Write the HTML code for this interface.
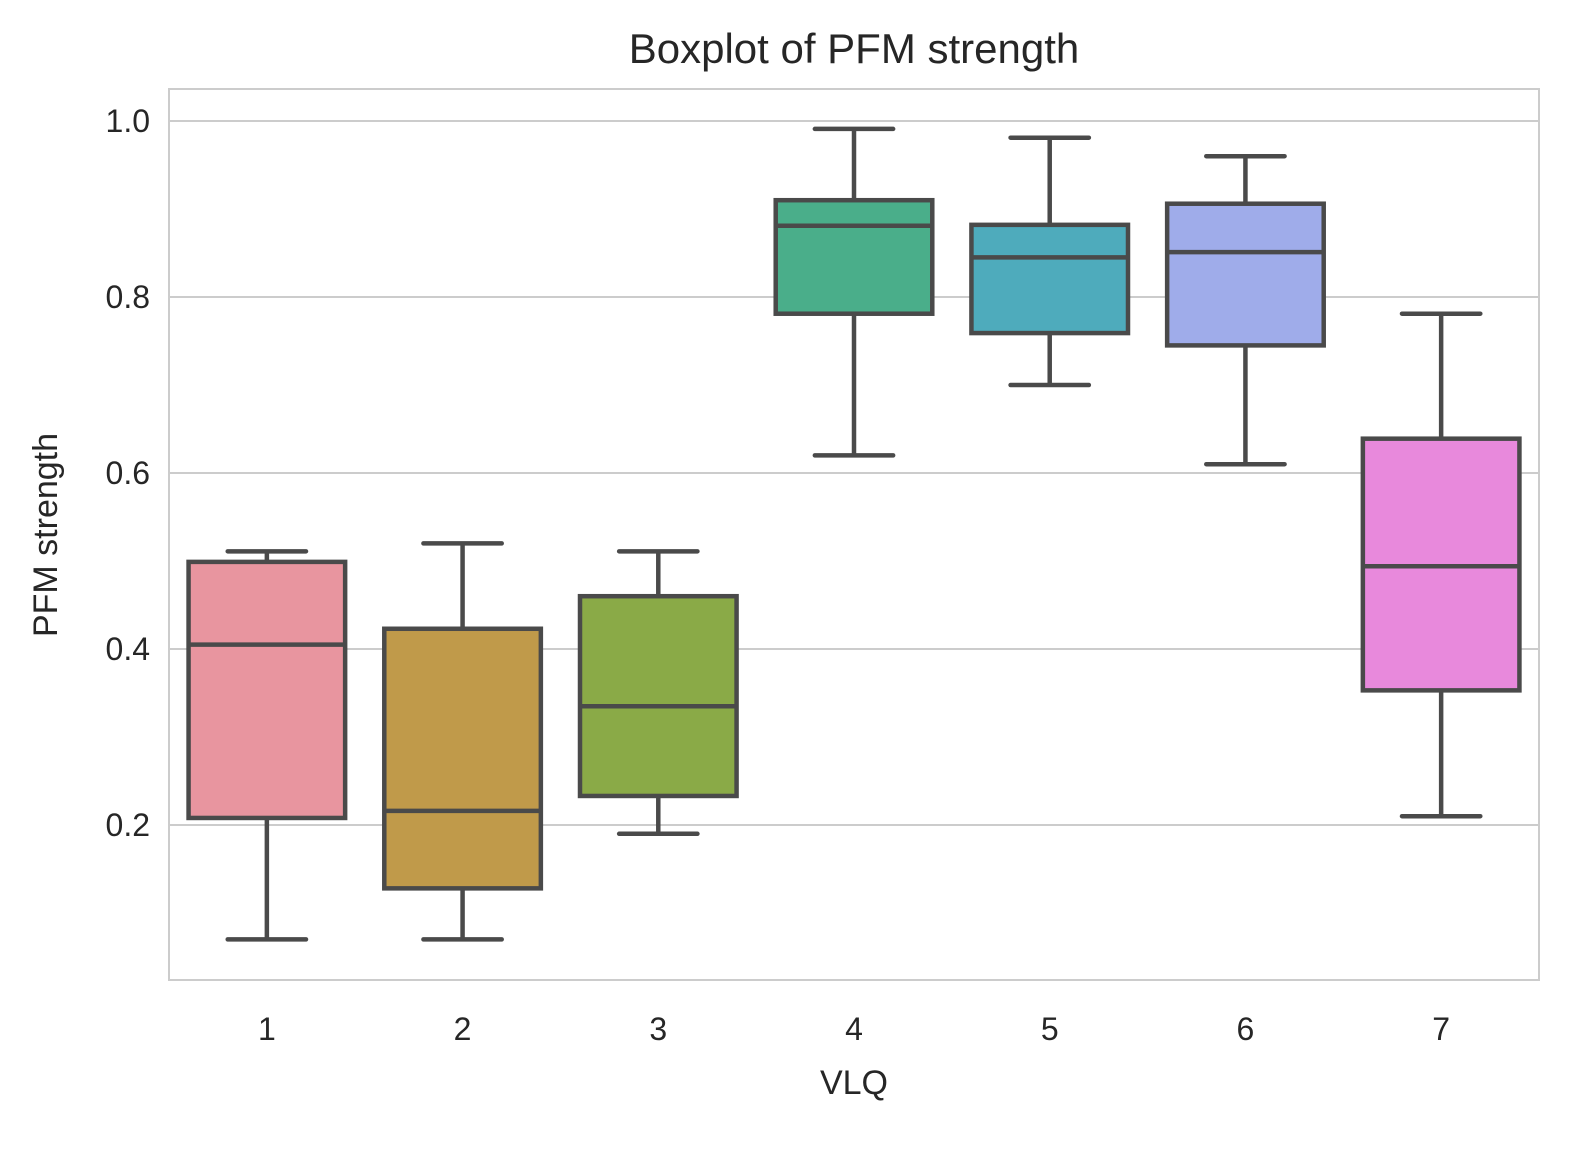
<!DOCTYPE html>
<html><head><meta charset="utf-8"><style>
body{margin:0;background:#fff}
svg text{font-family:"Liberation Sans",sans-serif;fill:#262626}
</style></head><body>
<svg id="chart" width="1596" height="1149" xmlns="http://www.w3.org/2000/svg">
<rect width="1596" height="1149" fill="#fff"/>
<g id="grid"></g>
<g id="boxes"></g>
<rect x="169" y="89" width="1370" height="891" fill="none" stroke="#cccccc" stroke-width="2"/>
<g id="ticks"></g>
<text x="854" y="63" font-size="42" text-anchor="middle">Boxplot of PFM strength</text>
<text x="854" y="1094" font-size="34" text-anchor="middle">VLQ</text>
<text transform="translate(57,535) rotate(-90)" font-size="34" text-anchor="middle">PFM strength</text>
</svg>
<script>
const categories=["1","2","3","4","5","6","7"];
const whiskLow=[0.07,0.07,0.19,0.62,0.70,0.61,0.21];
const q1=[0.208,0.128,0.233,0.781,0.759,0.745,0.353];
const medians=[0.405,0.216,0.335,0.881,0.845,0.851,0.494];
const q3=[0.499,0.423,0.46,0.91,0.882,0.906,0.639];
const whiskHigh=[0.511,0.52,0.511,0.991,0.981,0.96,0.781];
const colors=["#e8959f","#c09a4a","#8aaa47","#4aae8a","#4eabbc","#9facea","#e889dc"];
const yTicks=[0.2,0.4,0.6,0.8,1.0];
const NS="http://www.w3.org/2000/svg";
const y=v=>121+(1-v)*880;
const step=1370/7;
const x=i=>169+step*(i+0.5);
function mk(tag,attrs,parent){const e=document.createElementNS(NS,tag);for(const k in attrs)e.setAttribute(k,attrs[k]);parent.appendChild(e);return e;}
const grid=document.getElementById('grid'),boxes=document.getElementById('boxes'),ticks=document.getElementById('ticks');
yTicks.forEach(t=>{
 const l=mk('line',{x1:169,x2:1539,y1:y(t),y2:y(t),stroke:'#cccccc','stroke-width':2},grid);
 
 
 const tx=mk('text',{x:150,y:y(t)+11,'font-size':32,'text-anchor':'end'},ticks);
 tx.textContent=t.toFixed(1);
 
 
});
const bw=step*0.8,cw=bw/2,st='#4a4a4a',sw=4.5;
categories.forEach((c,i)=>{
 const cx=x(i);
 const g=mk('g',{},boxes);
 
 
 mk('line',{x1:cx,x2:cx,y1:y(whiskLow[i]),y2:y(q1[i]),stroke:st,'stroke-width':sw},g);
 mk('line',{x1:cx,x2:cx,y1:y(q3[i]),y2:y(whiskHigh[i]),stroke:st,'stroke-width':sw},g);
 mk('line',{x1:cx-cw/2,x2:cx+cw/2,y1:y(whiskLow[i]),y2:y(whiskLow[i]),stroke:st,'stroke-width':sw,'stroke-linecap':'round'},g);
 mk('line',{x1:cx-cw/2,x2:cx+cw/2,y1:y(whiskHigh[i]),y2:y(whiskHigh[i]),stroke:st,'stroke-width':sw,'stroke-linecap':'round'},g);
 mk('rect',{x:cx-bw/2,y:y(q3[i]),width:bw,height:y(q1[i])-y(q3[i]),fill:colors[i],stroke:st,'stroke-width':sw},g);
 mk('line',{x1:cx-bw/2,x2:cx+bw/2,y1:y(medians[i]),y2:y(medians[i]),stroke:st,'stroke-width':sw},g);
 const tx=mk('text',{x:cx,y:1040,'font-size':32,'text-anchor':'middle'},ticks);
 tx.textContent=c;
 
 
});
</script>
</body></html>
